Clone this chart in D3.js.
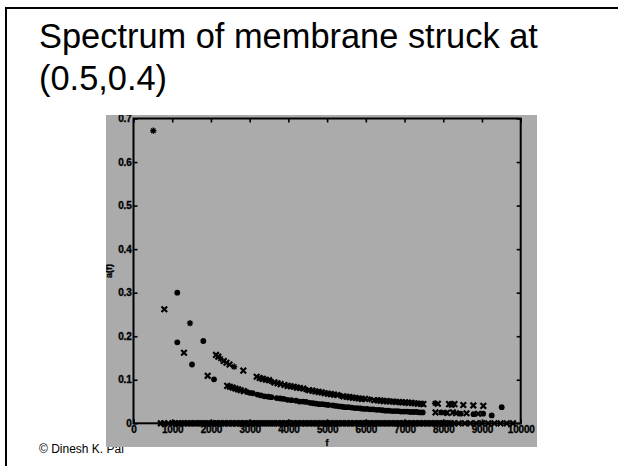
<!DOCTYPE html>
<html><head><meta charset="utf-8">
<script src="https://cdn.jsdelivr.net/npm/d3@7"></script>
<style>
html,body{margin:0;padding:0;background:#fff;}
svg{display:block;}
</style></head>
<body>
<script>
// ---- data ----
const titleLines = ["Spectrum of membrane struck at", "(0.5,0.4)"];
const footer = "\u00A9 Dinesh K. Pai";
const xTicks = [0,1000,2000,3000,4000,5000,6000,7000,8000,9000,10000];
const yTicks = [0,0.1,0.2,0.3,0.4,0.5,0.6,0.7];
const yTickLabels = ["0","0.1","0.2","0.3","0.4","0.5","0.6","0.7"];
const xLabel = "f";
const yLabel = "a(f)";

// asterisk markers
const starF = [511, 1459, 2250, 2600, 3300, 3560, 4450, 5350, 6100, 7787];
const starA = [0.672, 0.230, 0.148, 0.130, 0.103, 0.096, 0.077, 0.063, 0.055, 0.046];

// cross markers (upper band + isolated)
const crossF = [796, 1304, 1916,
  2131, 2190, 2330, 2400, 2480, 2836,
  3181, 3260, 3340, 3420, 3500, 3640, 3720, 3800, 3900, 3980, 4060, 4140, 4220, 4300, 4386,
  4540, 4620, 4700, 4780, 4860, 4940, 5020, 5100, 5180, 5260, 5420, 5500, 5580, 5660, 5740,
  5820, 5900, 5980, 6220, 6300, 6380, 6460, 6540, 6620, 6700, 6780, 6860, 6940, 7020, 7100,
  7180, 7260, 7340, 7420, 7485, 7860, 8150, 8218, 8290, 8518, 8776, 9034,
  2420, 2490, 2560, 2630, 2700, 2770, 2850, 7800, 8100, 8250, 8330, 8600, 8900];
const crossA = [0.262, 0.162, 0.109,
  0.157, 0.153, 0.143, 0.139, 0.135, 0.121,
  0.107, 0.104, 0.102, 0.100, 0.099, 0.094, 0.092, 0.090, 0.088, 0.086, 0.085, 0.084, 0.082, 0.081, 0.080,
  0.076, 0.075, 0.073, 0.072, 0.071, 0.069, 0.068, 0.067, 0.066, 0.065, 0.062, 0.061, 0.060, 0.059, 0.058,
  0.057, 0.056, 0.056, 0.053, 0.053, 0.052, 0.051, 0.051, 0.050, 0.050, 0.049, 0.049, 0.048, 0.048, 0.047,
  0.047, 0.046, 0.045, 0.045, 0.044, 0.045, 0.044, 0.043, 0.044, 0.042, 0.041, 0.040,
  0.086, 0.084, 0.082, 0.080, 0.078, 0.076, 0.074, 0.025, 0.024, 0.025, 0.023, 0.023, 0.022];

// filled-dot markers (lower band + isolated)
const dotF = [1131, 1131, 1511, 1803, 2079,
  2930, 3000, 3080, 3200, 3290, 3380, 3480, 3560, 3700, 3790, 3880, 3980, 4080,
  4200, 4290, 4380, 4460, 4560, 4640, 4720, 4800, 4880, 4960, 5030,
  5150, 5230, 5310, 5390, 5470, 5550, 5630, 5710, 5790, 5870, 5950, 6030, 6110, 6190,
  6270, 6350, 6430, 6510, 6590, 6670, 6750, 6830, 6910, 6990, 7070, 7150, 7230, 7310,
  7390, 7470, 7950, 8060, 8450, 8780, 9030, 9251, 9509];
const dotA = [0.300, 0.186, 0.135, 0.189, 0.101,
  0.072, 0.070, 0.069, 0.066, 0.064, 0.062, 0.061, 0.060, 0.058, 0.057, 0.056, 0.054, 0.053,
  0.052, 0.050, 0.050, 0.049, 0.047, 0.046, 0.045, 0.044, 0.044, 0.043, 0.042,
  0.041, 0.040, 0.039, 0.038, 0.037, 0.037, 0.036, 0.035, 0.035, 0.034, 0.033, 0.033, 0.032, 0.032,
  0.031, 0.031, 0.030, 0.029, 0.029, 0.028, 0.028, 0.028, 0.027, 0.027, 0.027, 0.026, 0.026, 0.026,
  0.025, 0.025, 0.025, 0.024, 0.022, 0.021, 0.022, 0.018, 0.037];

// modes with zero amplitude (along the f axis)
const zeroF = [705, 790, 900, 1010, 1090, 1170, 1250, 1320, 1400, 1470, 1540, 1610, 1690, 1750,
  1820, 1900, 1960, 2030, 2110, 2170, 2240, 2320, 2380, 2450, 2530, 2590, 2660, 2740, 2800,
  2870, 2950, 3010, 3080, 3160, 3220, 3290, 3370, 3430, 3500, 3580, 3640, 3710, 3790, 3850,
  3920, 4000, 4060, 4130, 4210, 4270, 4340, 4420, 4480, 4550, 4630, 4690, 4760, 4840, 4900,
  4970, 5050, 5110, 5180, 5260, 5320, 5390, 5470, 5530, 5600, 5680, 5740, 5810, 5890, 5950,
  6020, 6100, 6160, 6230, 6310, 6370, 6440, 6520, 6580, 6650, 6730, 6790, 6860, 6940, 7000,
  7070, 7150, 7210, 7280, 7360, 7420, 7490, 7570, 7630, 7700, 7780, 7840, 7910, 7990, 8050,
  8120, 8200, 8280, 8400, 8560, 8700, 8850, 9000, 9160, 9320, 9480, 9640, 9800];

// ---- drawing ----
const W = 618, H = 466;
const FONT = "Liberation Sans, Arial, sans-serif";
const svg = d3.select("body").append("svg").attr("width", W).attr("height", H);
svg.append("rect").attr("width", W).attr("height", H).attr("fill", "#fff");

// slide frame
svg.append("line").attr("x1", 6).attr("x2", 6).attr("y1", 7).attr("y2", H).attr("stroke", "#000").attr("stroke-width", 2);
svg.append("line").attr("x1", 5).attr("x2", W).attr("y1", 8).attr("y2", 8).attr("stroke", "#000").attr("stroke-width", 2);

// title
svg.append("g").selectAll("text").data(titleLines).join("text")
  .attr("x", 39).attr("y", (d, i) => 48 + i * 42)
  .attr("font-family", FONT)
  .attr("font-size", 34.4).attr("fill", "#000").text(d => d);

// footer (under the figure)
svg.append("text").attr("x", 39).attr("y", 453)
  .attr("font-family", FONT)
  .attr("font-size", 12).attr("fill", "#000").text(footer);

// figure background
const fig = {x0: 106, y0: 115, x1: 537, y1: 447};
svg.append("defs").append("clipPath").attr("id", "figclip")
  .append("rect").attr("x", fig.x0).attr("y", fig.y0).attr("width", fig.x1 - fig.x0).attr("height", fig.y1 - fig.y0);
svg.append("rect").attr("x", fig.x0).attr("y", fig.y0).attr("width", fig.x1 - fig.x0).attr("height", fig.y1 - fig.y0)
  .attr("fill", "#ababab");

const g = svg.append("g").attr("clip-path", "url(#figclip)");

const x = d3.scaleLinear().domain([0, 10000]).range([133.5, 520.7]);
const y = d3.scaleLinear().domain([0, 0.7]).range([423.3, 118.5]);

const tickFont = sel => sel.selectAll("text")
  .attr("font-family", FONT)
  .attr("font-weight", "bold").attr("font-size", 10).attr("fill", "#000")
  .attr("stroke", "#000").attr("stroke-width", 0.35)
  .attr("letter-spacing", "-0.2px");

const ax = g.append("g").attr("transform", `translate(0,${y(0)})`)
  .call(d3.axisBottom(x).tickValues(xTicks).tickSizeInner(-4).tickSizeOuter(0).tickPadding(3)
    .tickFormat(d3.format("d")))
  .call(tickFont);
const ay = g.append("g").attr("transform", `translate(${x(0)},0)`)
  .call(d3.axisLeft(y).tickValues(yTicks).tickSizeInner(-4).tickSizeOuter(0).tickPadding(2)
    .tickFormat((d, i) => yTickLabels[i]))
  .call(tickFont);
const at = g.append("g").attr("transform", `translate(0,${y(0.7)})`)
  .call(d3.axisTop(x).tickValues(xTicks).tickSizeInner(-4).tickSizeOuter(0).tickFormat(""));
const ar = g.append("g").attr("transform", `translate(${x(10000)},0)`)
  .call(d3.axisRight(y).tickValues(yTicks).tickSizeInner(-4).tickSizeOuter(0).tickFormat(""));
[ax, ay, at, ar].forEach(a => {
  a.select(".domain").remove();
  a.selectAll(".tick line").attr("stroke", "#000").attr("stroke-width", 1.6);
});

// box
g.append("rect").attr("x", x(0)).attr("y", y(0.7)).attr("width", x(10000) - x(0)).attr("height", y(0) - y(0.7))
  .attr("fill", "none").attr("stroke", "#000").attr("stroke-width", 2);

// axis labels
g.append("text").attr("x", (x(0) + x(10000)) / 2).attr("y", 446).attr("text-anchor", "middle")
  .attr("font-family", FONT).attr("font-weight", "bold").attr("font-size", 9)
  .attr("stroke", "#000").attr("stroke-width", 0.3)
  .text(xLabel);
g.append("text").attr("transform", `translate(112,${(y(0) + y(0.7)) / 2}) rotate(-90)`).attr("text-anchor", "middle")
  .attr("font-family", FONT).attr("font-weight", "bold").attr("font-size", 9)
  .attr("stroke", "#000").attr("stroke-width", 0.3)
  .text(yLabel);

// markers
const s = 2.8;
const crossPath = `M${-s},${-s}L${s},${s}M${-s},${s}L${s},${-s}`;
const starPath = `M${-s * 0.8},${-s * 0.8}L${s * 0.8},${s * 0.8}M${-s * 0.8},${s * 0.8}L${s * 0.8},${-s * 0.8}` +
  `M0,${-s - 0.3}L0,${s + 0.3}M${-s - 0.3},0L${s + 0.3},0`;
const mk = g.append("g");

const zeroPts = zeroF.map(f => [f, 0]);
mk.selectAll("path.z").data(zeroPts).join("path").attr("class", "z")
  .attr("transform", d => `translate(${x(d[0])},${y(d[1])})`)
  .attr("d", crossPath).attr("stroke", "#000").attr("stroke-width", 2.2).attr("fill", "none");

const crossPts = crossF.map((f, i) => [f, crossA[i]]);
mk.selectAll("path.c").data(crossPts).join("path").attr("class", "c")
  .attr("transform", d => `translate(${x(d[0])},${y(d[1])})`)
  .attr("d", crossPath).attr("stroke", "#000").attr("stroke-width", 2.2).attr("fill", "none");

const starPts = starF.map((f, i) => [f, starA[i]]);
mk.selectAll("path.s").data(starPts).join("path").attr("class", "s")
  .attr("transform", d => `translate(${x(d[0])},${y(d[1])})`)
  .attr("d", starPath).attr("stroke", "#000").attr("stroke-width", 1.4).attr("fill", "none");

const dotPts = dotF.map((f, i) => [f, dotA[i]]);
mk.selectAll("circle.d").data(dotPts).join("circle").attr("class", "d")
  .attr("cx", d => x(d[0])).attr("cy", d => y(d[1])).attr("r", 2.9).attr("fill", "#000");
</script>
</body></html>
